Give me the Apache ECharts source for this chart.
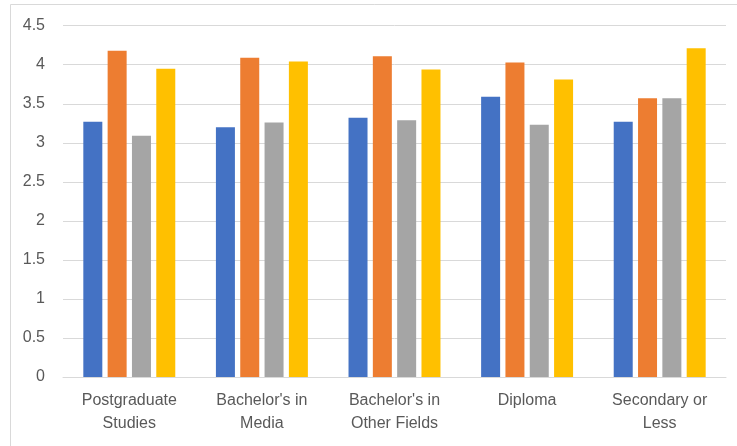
<!DOCTYPE html>
<html>
<head>
<meta charset="utf-8">
<script src="https://cdn.jsdelivr.net/npm/echarts@6/dist/echarts.min.js"></script>
<style>
  html, body { margin: 0; padding: 0; background: #fff; }
  #main { width: 737px; height: 446px; }
</style>
</head>
<body>
<div id="main"></div>
<script>
var categories = ['Postgraduate\nStudies', "Bachelor's in\nMedia", "Bachelor's in\nOther Fields", 'Diploma', 'Secondary or\nLess'];
var seriesBlue   = [3.27, 3.20, 3.32, 3.59, 3.27];
var seriesOrange = [4.18, 4.09, 4.11, 4.03, 3.57];
var seriesGray   = [3.09, 3.26, 3.29, 3.23, 3.57];
var seriesYellow = [3.95, 4.04, 3.94, 3.81, 4.21];
var yTicks = [0, 0.5, 1, 1.5, 2, 2.5, 3, 3.5, 4, 4.5];

var myChart = echarts.init(document.getElementById('main'));

function bar(name, data) {
    return {
        name: name,
        type: 'bar',
        barWidth: 19,
        barGap: '28%',
        data: data
    };
}

var option = {
    color: ['#4472C4', '#ED7D31', '#A5A5A5', '#FFC000'],
    textStyle: { fontFamily: 'Liberation Sans' },
    graphic: [
        {
            type: 'rect',
            shape: { x: 10.5, y: 4.5, width: 740, height: 460 },
            style: { fill: 'none', stroke: '#d9d9d9', lineWidth: 1 }
        }
    ],
    grid: {
        left: 63,
        right: 11,
        top: 25.7,
        bottom: 69
    },
    xAxis: {
        type: 'category',
        data: categories,
        axisTick: { show: false },
        axisLine: { lineStyle: { color: '#d9d9d9', width: 1 } },
        axisLabel: {
            color: '#595959',
            fontSize: 16,
            lineHeight: 23,
            margin: 12,
            interval: 0
        }
    },
    yAxis: {
        type: 'value',
        min: yTicks[0],
        max: yTicks[yTicks.length - 1],
        interval: 0.5,
        axisLine: { show: false },
        axisTick: { show: false },
        splitLine: { lineStyle: { color: '#d9d9d9', width: 1 } },
        axisLabel: {
            color: '#595959',
            fontSize: 16,
            margin: 18
        }
    },
    series: [
        bar('Series 1', seriesBlue),
        bar('Series 2', seriesOrange),
        bar('Series 3', seriesGray),
        bar('Series 4', seriesYellow)
    ]
};
myChart.setOption(option);
</script>
</body>
</html>
